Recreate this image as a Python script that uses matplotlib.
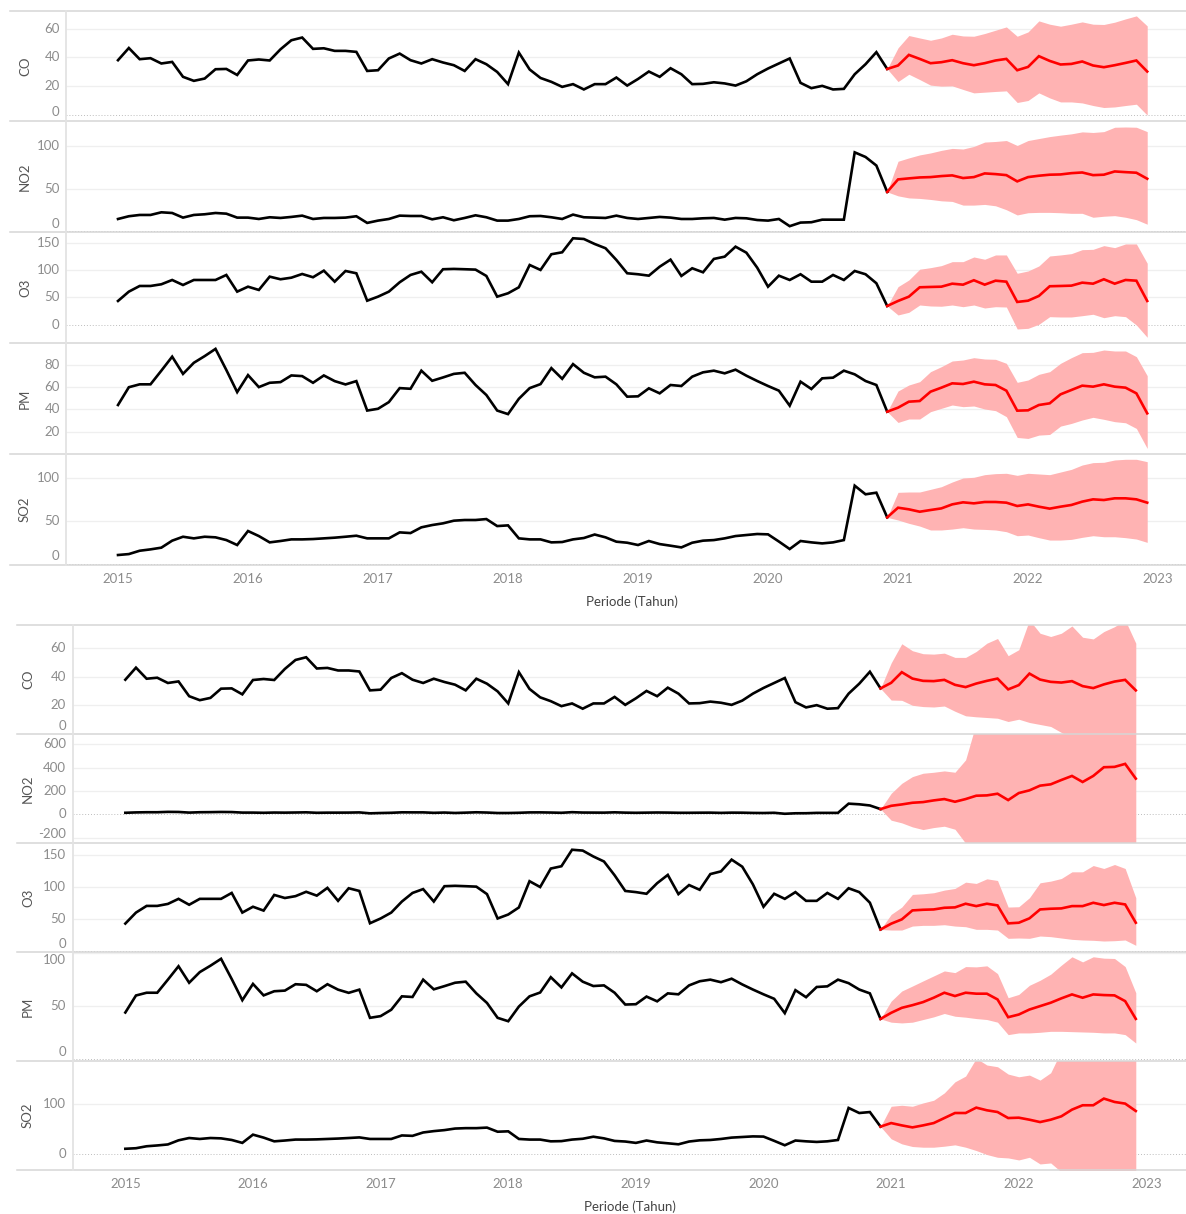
import numpy as np
import matplotlib
matplotlib.use('Agg')
import matplotlib.pyplot as plt
from matplotlib.lines import Line2D

plt.rcParams['font.family'] = ['Lato', 'DejaVu Sans']

# monthly series, Jan 2015 - Dec 2020
start_year = 2015
pollutants = ['CO', 'NO2', 'O3', 'PM', 'SO2']

co_hist = [38, 46.5, 38.7, 39.4, 35.7, 36.8, 26.4, 23.6, 25.2, 31.7, 31.9, 27.7,
           37.8, 38.5, 37.8, 45.6, 51.9, 53.8, 45.9, 46.3, 44.5, 44.5, 43.8, 30.5,
           31, 39.2, 42.6, 38, 35.7, 38.7, 36.4, 34.5, 30.5, 38.7, 35.2, 29.8,
           21.3, 43.3, 31.5, 25.6, 22.9, 19.4, 21.3, 17.6, 21.3, 21.3, 25.9, 20.3,
           24.9, 30.1, 26.4, 32.4, 28.2, 21.3, 21.5, 22.6, 21.8, 20.3, 23.3, 28.2,
           32.2, 35.7, 39.2, 22.2, 18.5, 20.1, 17.6, 18, 28.2, 35.2, 43.6, 31.9]
no2_hist = [14.5, 17.7, 19.2, 19.2, 22.3, 21.5, 16.1, 19.2, 20, 21.5, 20.7, 16.1,
            16.1, 14.5, 16.5, 15.7, 16.9, 18.4, 14.5, 15.7, 15.7, 16.1, 17.7, 9.9,
            12.6, 14.5, 18.4, 18, 18, 14.1, 16.5, 13, 15.7, 18.8, 16.5, 12.6,
            12.6, 14.5, 17.7, 18, 16.5, 14.5, 19.6, 16.5, 16.1, 15.7, 18.4, 15.7,
            14.5, 15.7, 16.9, 16.1, 14.5, 14.5, 15.3, 15.7, 13.7, 15.7, 15.3, 13.3,
            12.6, 14.5, 6.1, 10.3, 10.7, 13.7, 13.7, 13.7, 92.3, 86.9, 76.9, 46.1]
o3_hist = [43.5, 60.6, 71, 71, 74.1, 82, 72.8, 82, 82, 82, 91.2, 60.6,
           69.7, 63.7, 88.1, 83.3, 86.2, 93, 87, 99.1, 78.9, 98.5, 94.3, 44,
           51.4, 60.6, 77.8, 91.2, 97.2, 77.8, 101.7, 102.3, 101.7, 101, 89.4, 51.4,
           57.6, 68.6, 109.5, 100.4, 129.2, 132.8, 158.5, 157.2, 148, 140.2, 118.7, 94.3,
           92.5, 89.9, 106.4, 119.3, 89.4, 103.5, 96.1, 120.6, 124.8, 143.1, 132.1, 104.6,
           69.7, 89.9, 82, 92.5, 78.9, 78.9, 91.2, 82, 98.5, 92.5, 76, 34.3]
pm_hist = [44, 60, 62.6, 62.6, 74.9, 87.5, 72, 82, 88, 94.5, 75.5, 55.6,
           70.9, 60.1, 64, 64.6, 70.6, 70, 64, 70.6, 65.5, 62.5, 65.5, 39,
           40.6, 46.6, 59.2, 58.6, 74.9, 65.8, 68.8, 72, 73, 62, 53, 39,
           35.8, 49.6, 59.2, 62.8, 77.2, 67.6, 80.8, 73, 68.9, 69.5, 62.6, 51.5,
           51.8, 59, 54.5, 62, 61.1, 69.5, 73.4, 74.9, 72.5, 75.8, 70.4, 65.6,
           61.1, 56.9, 43.4, 65, 58.4, 68, 68.6, 74.9, 71.6, 65.6, 62, 38]
so2_hist = [10.2, 11.3, 15.2, 16.8, 18.8, 27, 31.6, 29.7, 31.6, 30.9, 27.7, 21.9,
            38.3, 32.4, 25, 26.6, 28.5, 28.5, 28.9, 29.7, 30.5, 31.6, 32.8, 29.7,
            29.7, 29.7, 36.7, 35.9, 42.6, 45.3, 47.3, 50.4, 51.2, 51.2, 52.3, 44.1,
            44.9, 29.7, 28.5, 28.5, 25, 25.4, 28.5, 30.1, 34.2, 30.9, 25.8, 24.6,
            21.9, 26.6, 23, 21.1, 19.1, 24.6, 27, 27.7, 29.7, 32.4, 33.6, 34.8,
            34.4, 26, 17.2, 26.6, 25, 23.8, 25, 27.7, 91.4, 81.3, 83.2, 54.3]

# forecast A (upper chart), Jan 2021 - Dec 2022
co_fc_a = [34.3, 41.7, 38.9, 35.9, 36.6, 38, 35.9, 34.5, 35.9, 37.8, 38.9, 31,
           33.3, 40.8, 37.5, 35, 35.4, 37.1, 34.3, 33.1, 34.5, 36.1, 37.8, 30.1]
co_hi_a = [46.6, 55.2, 53.5, 51.9, 53.5, 56.1, 54.9, 54.7, 56.6, 58.9, 61.2, 54.7,
           57.7, 65.4, 63.1, 61.7, 63.1, 64.7, 63.1, 62.9, 64.5, 66.8, 68.9, 61.9]
co_lo_a = [23.1, 28.2, 24.5, 20.6, 19.9, 20.1, 17.6, 15.2, 15.7, 16.2, 16.6, 8.5,
           9.9, 15.2, 11.7, 8.9, 8.9, 8.2, 6.4, 5, 5.4, 6.4, 7.3, -0.3]
no2_fc_a = [60.7, 61.9, 63, 63.4, 64.6, 65.4, 62.3, 63.4, 67.7, 66.9, 65.7, 58.4,
            63.4, 65, 66.2, 66.5, 68, 68.8, 65.7, 66.2, 70, 69.2, 68.5, 61.5]
no2_hi_a = [81.9, 85.8, 89.3, 91.6, 94.6, 96.9, 96.2, 99.2, 104.3, 105, 106.1, 100.3,
            106.1, 108.4, 110.7, 112.4, 113.9, 116.2, 115.5, 116.5, 121.6, 121.9, 121.6, 116.5]
no2_lo_a = [41.5, 39.1, 38.5, 37.3, 35.7, 35, 30.7, 30.7, 31.5, 29.9, 25.3, 19.2,
            21.8, 22.2, 22.2, 21.8, 21.1, 21.1, 16.5, 17.7, 18.4, 16.5, 13.7, 8.4]
o3_fc_a = [43.5, 51.4, 68.6, 69.2, 69.7, 75.2, 73.4, 81.5, 73.4, 80.7, 78.9, 41.7,
           44, 52.7, 70.5, 71, 71.6, 77.1, 75.2, 83.3, 75.2, 82, 80.7, 43.5]
o3_hi_a = [69.7, 82, 101.7, 104.6, 108.3, 115.6, 115.6, 124.2, 120, 127.9, 127.9, 94.3,
           98.5, 107.7, 126, 127.9, 130.3, 137.6, 138.2, 145, 141.3, 148.1, 148.1, 112.7]
o3_lo_a = [17.8, 22.7, 36.1, 34.3, 33.8, 36.1, 33, 36.1, 30.6, 33, 32.4, -7.9,
           -6.7, 0.7, 14.7, 14.1, 14.1, 16.5, 19.1, 12.8, 16.5, 14.7, -0.6, -23.1]
pm_fc_a = [41.6, 47, 47.6, 56, 59.6, 63.5, 62.9, 65, 62.6, 62, 56.9, 38.9,
           39.2, 44, 45.5, 53.6, 57.5, 61.4, 60.5, 62.6, 60.5, 59.6, 54.5, 36.5]
pm_hi_a = [56.6, 62, 65, 74, 78.5, 83.6, 84.5, 86.6, 85.4, 85.1, 81.5, 64.4,
           66.5, 71.6, 74, 81.5, 86.6, 91.1, 91.4, 93.5, 92.6, 92.6, 87.5, 70.4]
pm_lo_a = [28.3, 31.4, 31.4, 38, 41, 44, 42.5, 43.1, 40.4, 38.9, 33.5, 14.8,
           13.9, 16.9, 17.5, 25, 27.4, 30.5, 32.9, 31.1, 29, 28, 22.9, 4.9]
so2_fc_a = [65.6, 63.7, 60.9, 62.9, 64.8, 69.5, 71.9, 70.7, 72.3, 72.3, 71.5, 67.6,
            69.5, 66.8, 64.5, 66.8, 68.8, 72.7, 75.4, 74.6, 76.6, 76.6, 75.4, 71.5]
so2_hi_a = [83.6, 84, 84, 87.1, 90.2, 95.7, 100.4, 101.2, 104.3, 105.5, 105.9, 103.5,
            105.9, 105.1, 104.3, 107.4, 110.5, 115.6, 118.4, 118.8, 121.5, 122.3, 122.3, 119.5]
so2_lo_a = [51.2, 47.3, 44.1, 39.5, 39.5, 40.6, 42.2, 40.6, 40.2, 39.5, 37.5, 32.8,
            33.6, 30.5, 27.7, 27.7, 28.5, 30.9, 32.8, 31.6, 31.6, 30.5, 28.9, 25]

# forecast B (lower chart)
co_fc_b = [35.8, 43.3, 38.8, 37.2, 37, 37.9, 34.4, 32.8, 35.3, 37.2, 38.8, 31.2,
           34.2, 42.3, 38.1, 36.5, 36, 37, 33.5, 32.1, 34.7, 36.7, 37.9, 30.5]
co_hi_b = [49.8, 63.3, 58.4, 56.3, 56, 56.7, 53.7, 53.7, 57.9, 63.7, 67, 54.9,
           59.1, 80, 70.7, 68.4, 70.7, 75.8, 67.9, 66.7, 71.9, 75.3, 80, 63.7]
co_lo_b = [23.7, 23.5, 20, 19.1, 18.8, 19.5, 15.8, 12.6, 11.9, 11.4, 10.9, 8.6,
           10.2, 7.9, 6.5, 5.1, 0.9, -3, -5, -6, -6, -6, -5, -10]
no2_fc_b = [74, 85.7, 100, 105.7, 120, 131.4, 108.6, 131.4, 160, 162.8, 177, 122.8,
            182.8, 205.7, 245.7, 257, 294, 328.6, 277, 328.6, 402.8, 405.7, 431.4, 305.7]
no2_hi_b = [180, 265.7, 322.8, 351.4, 360, 371.4, 360, 465.7, 780, 900, 980, 1000,
            1050, 1100, 1150, 1200, 1250, 1300, 1300, 1350, 1400, 1450, 1500, 1450]
no2_lo_b = [-48.6, -71.4, -105.7, -128.6, -111.4, -100, -125.7, -245, -330, -360, -400, -420,
            -450, -480, -520, -560, -600, -640, -640, -680, -720, -760, -800, -760]
o3_fc_b = [43.3, 50, 64, 65, 65.5, 68.1, 68.7, 74.4, 70.7, 74.4, 71.8, 43.8,
           44.8, 51.6, 65.5, 66.6, 67.1, 70.7, 70.7, 75.9, 72.3, 75.9, 73.3, 44.8]
o3_hi_b = [57.8, 69.2, 88.9, 89.9, 91.5, 95.6, 98.2, 108, 106, 113.2, 110.6, 69.2,
           69.7, 83.7, 107, 109.6, 113.7, 124.1, 124.1, 133.9, 129.3, 135.5, 129.3, 83.7]
o3_lo_b = [33.4, 33.4, 39.6, 40.7, 40.7, 41.7, 39.6, 38.6, 34.5, 34.5, 33.4, 20.5,
           21, 20.5, 24.1, 23.1, 21, 18.9, 17.9, 17.4, 16.3, 16.8, 17.9, 9.6]
pm_fc_b = [43.7, 48.4, 50.9, 53.8, 57.9, 62.6, 59.5, 62.6, 61.7, 61.7, 56.3, 39.6,
           42.1, 46.8, 50, 53.2, 57.3, 61, 57.9, 61, 60.4, 60.1, 54.7, 38]
pm_hi_b = [54.7, 64.2, 68.9, 73.7, 78.4, 83.1, 81.5, 87.2, 86.9, 87.9, 80.6, 57.9,
           61, 69.6, 74.3, 80, 88.5, 96.4, 91.6, 96.4, 95.1, 94.8, 87.2, 62.6]
pm_lo_b = [34.9, 34.2, 34.9, 37.4, 39.9, 43.1, 40.5, 39.6, 38.3, 37.4, 34.9, 23.2,
           24.8, 24.8, 25.4, 26.3, 26.3, 26, 25.7, 25.4, 24.8, 24.8, 23.2, 15.3]
so2_fc_b = [61.3, 56.7, 52.7, 56.7, 61.3, 71.3, 81.3, 81.3, 92, 86.7, 83.3, 71.3,
            72, 68, 63.3, 68, 74.7, 88, 96.7, 96.7, 110, 103.3, 100, 85.3]
so2_hi_b = [94.7, 96.7, 94.7, 101.3, 106.7, 121.3, 143.3, 154.7, 190, 176.7, 173.3, 158.7,
            153.3, 156.7, 146.7, 161.3, 205, 220, 230, 235, 250, 245, 245, 235]
so2_lo_b = [30, 20, 14.7, 13.3, 13.3, 15.3, 18, 13.3, 6.7, -1.3, -6.7, -8,
            -12, -6.7, -20, -18, -36, -45, -50, -52, -55, -55, -55, -60]

year_ticks = list(range(2015, 2024))

hist = {'CO': co_hist, 'NO2': no2_hist, 'O3': o3_hist, 'PM': pm_hist, 'SO2': so2_hist}
fc_a = {'CO': (co_fc_a, co_lo_a, co_hi_a), 'NO2': (no2_fc_a, no2_lo_a, no2_hi_a),
        'O3': (o3_fc_a, o3_lo_a, o3_hi_a), 'PM': (pm_fc_a, pm_lo_a, pm_hi_a),
        'SO2': (so2_fc_a, so2_lo_a, so2_hi_a)}
fc_b = {'CO': (co_fc_b, co_lo_b, co_hi_b), 'NO2': (no2_fc_b, no2_lo_b, no2_hi_b),
        'O3': (o3_fc_b, o3_lo_b, o3_hi_b), 'PM': (pm_fc_b, pm_lo_b, pm_hi_b),
        'SO2': (so2_fc_b, so2_lo_b, so2_hi_b)}

W, H = 1186, 1214
fig = plt.figure(figsize=(W / 100, H / 100), dpi=100)

GRAY_TXT = '#8c8c8c'
SEP = '#d6d6d6'

blocks = [
    dict(fc=fc_a, x0=66, line_x0=10, edges=[11, 121, 232, 343, 454, 565],
         xlim=(2014.6, 2023.215), label_x=25, xlab=(632, 602), lab_dx=-4.5,
         ylims=[(-4.4, 72.3), (-0.7, 128.9), (-33.6, 170), (-0.1, 99.8), (-1.5, 128.5)],
         yticks=[[0, 20, 40, 60], [0, 50, 100], [0, 50, 100, 150], [20, 40, 60, 80], [0, 50, 100]]),
    dict(fc=fc_b, x0=73, line_x0=17, edges=[625, 734, 843, 952, 1061, 1170],
         xlim=(2014.59, 2023.31), label_x=28, xlab=(630, 1207), lab_dx=-5,
         ylims=[(-0.2, 76.5), (-243, 686), (-0.8, 169), (-1.6, 100.9), (-32, 184.7)],
         yticks=[[0, 20, 40, 60], [-200, 0, 200, 400, 600], [0, 50, 100, 150], [0, 50, 100], [0, 100]]),
]

n_hist = len(co_hist)
x_hist = start_year + np.arange(n_hist) / 12
x_fc = start_year + np.arange(n_hist - 1, n_hist + len(co_fc_a)) / 12

for blk in blocks:
    edges = blk['edges']
    x0 = blk['x0']
    for i, name in enumerate(pollutants):
        top, bot = edges[i], edges[i + 1]
        ax = fig.add_axes([x0 / W, 1 - bot / H, (W - x0) / W, (bot - top) / H])
        lo_lim, hi_lim = blk['ylims'][i]
        ax.set_ylim(lo_lim, hi_lim)
        ax.set_xlim(*blk['xlim'])
        for s in ax.spines.values():
            s.set_visible(False)

        ticks = blk['yticks'][i]
        ax.set_yticks(ticks)
        ax.set_yticklabels([])
        ax.tick_params(axis='y', length=0)
        for t in ticks:
            if t != 0:
                ax.axhline(t, color='#efefef', lw=0.9, zorder=0)
        if lo_lim < 0 < hi_lim:
            ax.axhline(0, color='#bdbdbd', lw=0.7, ls=(0, (1, 2)), zorder=0)

        # tick labels, kept inside the pane like the original
        h_px = bot - top
        for t in ticks:
            frac = (t - lo_lim) / (hi_lim - lo_lim)
            d_bot = frac * h_px
            d_top = (1 - frac) * h_px
            dy = 0
            if d_bot < 8.5:
                dy = 8.5 - d_bot
            elif d_top < 8.5:
                dy = -(8.5 - d_top)
            ax.annotate(f'{t:g}', xy=(0, t), xycoords=('axes fraction', 'data'),
                        xytext=(blk['lab_dx'], dy * 0.72), textcoords='offset points',
                        ha='right', va='center', color=GRAY_TXT, fontsize=9.5,
                        annotation_clip=False)

        mean, lower, upper = blk['fc'][name]
        last = hist[name][-1]
        ax.fill_between(x_fc, [last] + lower, [last] + upper, color='#ffb3b3', lw=0, zorder=1)
        ax.plot(x_hist, hist[name], color='black', lw=1.9, zorder=3, solid_joinstyle='miter')
        ax.plot(x_fc, [last] + mean, color='#ff0000', lw=1.9, zorder=3, solid_joinstyle='miter')

        ax.set_xticks(year_ticks)
        if i == len(pollutants) - 1:
            ax.set_xticklabels([str(y) for y in year_ticks])
            ax.tick_params(axis='x', length=0, pad=6, labelcolor=GRAY_TXT, labelsize=9.5)
        else:
            ax.tick_params(axis='x', length=0, labelbottom=False)

        fig.text(blk['label_x'] / W, 1 - (top + bot) / 2 / H, name, rotation=90,
                 ha='center', va='center', color='#555555', fontsize=9.5)

    # pane separators and the left axis line
    for y in edges:
        fig.add_artist(Line2D([blk['line_x0'] / W, 1], [1 - y / H] * 2, color=SEP, lw=1.1))
    fig.add_artist(Line2D([x0 / W] * 2, [1 - edges[0] / H, 1 - edges[-1] / H],
                          color='#e3e3e3', lw=1.3))
    fig.text(blk['xlab'][0] / W, 1 - blk['xlab'][1] / H, 'Periode (Tahun)',
             ha='center', va='center', color='#444444', fontsize=9.5)

fig.savefig('out.png', dpi=100, facecolor='white')
